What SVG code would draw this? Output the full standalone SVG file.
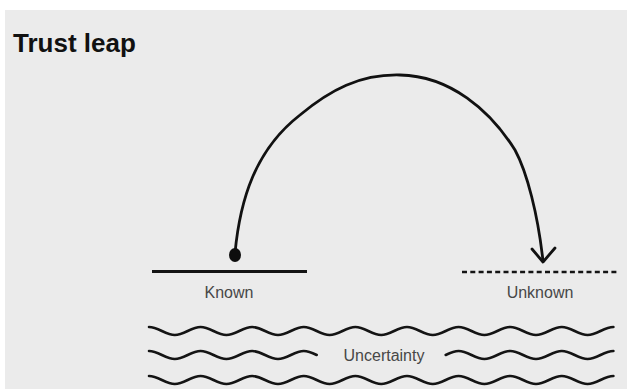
<svg xmlns="http://www.w3.org/2000/svg" width="627" height="389" viewBox="0 0 627 389">
<style>
.lbl{font-family:"Liberation Sans",Arial,sans-serif;font-size:16px;fill:#474747;text-anchor:middle}
.title{font-family:"Liberation Sans",Arial,sans-serif;font-size:26px;font-weight:bold;fill:#111}
.wave{fill:none;stroke:#141414;stroke-width:2.6;stroke-linecap:round}
.ink{fill:none;stroke:#111;stroke-width:2.8;stroke-linecap:round;stroke-linejoin:round}
</style>
<rect x="0" y="0" width="627" height="389" fill="#ffffff"/>
<rect x="5" y="10" width="622" height="379" fill="#ebebeb"/>
<g id="title"><text class="title" x="13" y="52">Trust leap</text></g>
<g id="known">
<line x1="152" y1="271.5" x2="307" y2="271.5" stroke="#141414" stroke-width="3"/>
<text class="lbl" x="229" y="298">Known</text>
</g>
<g id="unknown">
<line x1="462" y1="272" x2="618" y2="272" stroke="#141414" stroke-width="2.6" stroke-dasharray="5 3.3"/>
<text class="lbl" x="540" y="298">Unknown</text>
</g>
<g id="uncertainty">
<path class="wave" d="M149,327 c9.38,0 16.42,8 25.8,8 s16.42,-8 25.8,-8 s16.42,8 25.8,8 s16.42,-8 25.8,-8 s16.42,8 25.8,8 s16.42,-8 25.8,-8 s16.42,8 25.8,8 s16.42,-8 25.8,-8 s16.42,8 25.8,8 s16.42,-8 25.8,-8 s16.42,8 25.8,8 s16.42,-8 25.8,-8 s16.42,8 25.8,8 s16.42,-8 25.8,-8 s16.42,8 25.8,8 s16.42,-8 25.8,-8 s16.42,8 25.8,8 s16.42,-8 25.8,-8"/>
<path class="wave" d="M149,351 c9.38,0 16.42,8 25.8,8 s16.42,-8 25.8,-8 s16.42,8 25.8,8 s16.42,-8 25.8,-8 s16.42,8 25.8,8 s16.42,-8 25.8,-8 c4.5,0 9.03,2.12 12.9,4"/>
<path class="wave" d="M445.7,355 c3.87,-1.88 8.4,-4 12.9,-4 c9.38,0 16.42,8 25.8,8 s16.42,-8 25.8,-8 s16.42,8 25.8,8 s16.42,-8 25.8,-8 s16.42,8 25.8,8 s16.42,-8 25.8,-8"/>
<path class="wave" d="M149,376 c9.38,0 16.42,8 25.8,8 s16.42,-8 25.8,-8 s16.42,8 25.8,8 s16.42,-8 25.8,-8 s16.42,8 25.8,8 s16.42,-8 25.8,-8 s16.42,8 25.8,8 s16.42,-8 25.8,-8 s16.42,8 25.8,8 s16.42,-8 25.8,-8 s16.42,8 25.8,8 s16.42,-8 25.8,-8 s16.42,8 25.8,8 s16.42,-8 25.8,-8 s16.42,8 25.8,8 s16.42,-8 25.8,-8 s16.42,8 25.8,8 s16.42,-8 25.8,-8"/>
<text class="lbl" x="384" y="361">Uncertainty</text>
</g>
<g id="connectors">
<path class="ink" d="M235,253 C240,200 255,150 300,115 C330,90 360,74 400,75 C450,76 490,110 515,150 C527,172 538,215 543,261"/>
<polyline class="ink" points="532,249 543,262 555,248"/>
<ellipse cx="235" cy="255" rx="6" ry="7" fill="#0d0d0d"/>
</g>
</svg>
